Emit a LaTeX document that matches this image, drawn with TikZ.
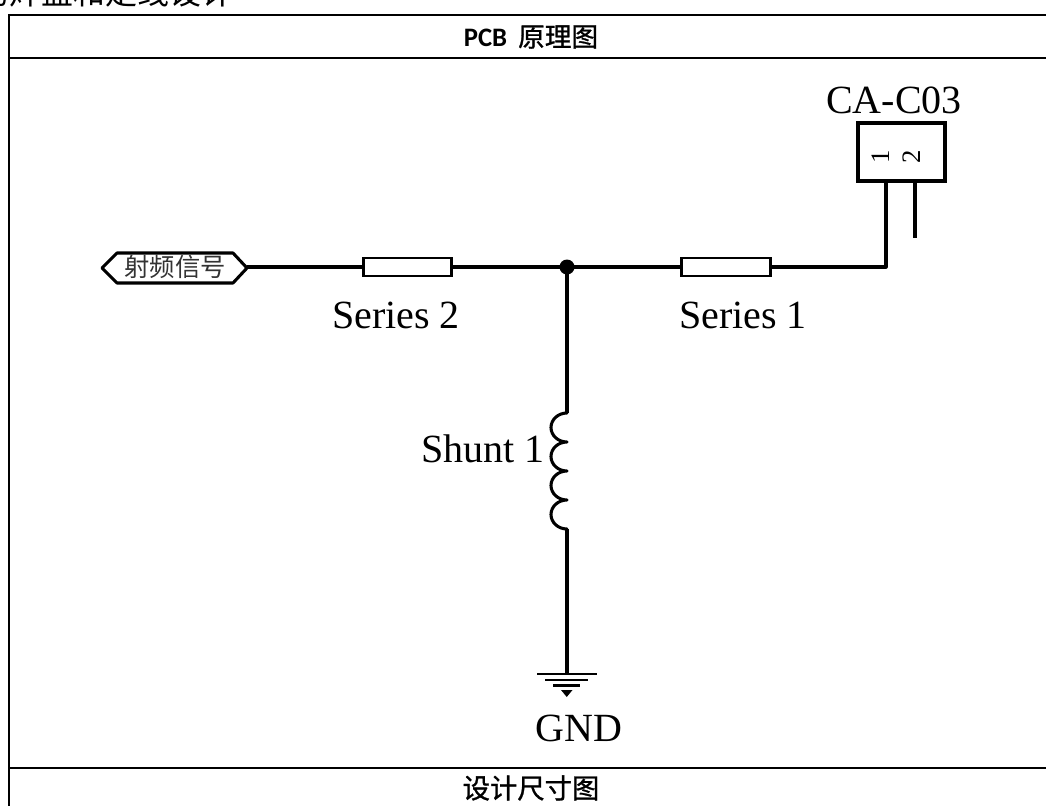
\documentclass[tikz,border=0pt]{standalone}
\usepackage{fontspec}
\setmainfont{Liberation Serif}
\newfontfamily\cjk{Noto Sans CJK SC}
\newfontfamily\cjkm[FakeBold=1]{Noto Sans CJK SC}
\newfontfamily\lab[BoldFont={Carlito Bold}]{Carlito}
\tikzset{
  wire/.style={line width=2.3pt, line join=round},
  gline/.style={line width=1.9pt},
  tbl/.style={line width=1.9pt},
  res/.style={draw, line width=2.2pt, fill=white, minimum width=66.5pt, minimum height=13.5pt, inner sep=0pt},
  serif/.style={font=\fontsize{30}{32}\selectfont, inner sep=0pt},
}
\begin{document}
\begin{tikzpicture}[x=0.75pt,y=-0.75pt]
\useasboundingbox (0,0) rectangle (1046,806);
\clip (0,0) rectangle (1046,806);
\fill[white] (0,0) rectangle (1046,806);
% table
\draw[tbl] (9,806) -- (9,15) -- (1046,15);
\draw[tbl] (9,58) -- (1046,58);
\draw[tbl] (9,768) -- (1046,768);
\node[font=\fontsize{24}{26}\selectfont\cjk, inner sep=0pt, anchor=base west] (title) at (-23,5) {的焊盘和走线设计};
\node[font=\fontsize{20}{22}\selectfont, inner sep=0pt] (h1) at (531,37) {{\lab\bfseries PCB}\ \,{\cjkm 原理图}};
\node[font=\fontsize{20.5}{24}\selectfont\cjkm, inner sep=0pt] (h2) at (531,788) {设计尺寸图};
% nodes
\node[res] (s2) at (407.5,267) {};
\node[res] (s1) at (726,267) {};
\node[serif] (ls2) at (396,315) {Series 2};
\node[serif] (ls1) at (743,315) {Series 1};
\node[serif] (ca) at (894,100) {CA-C03};
\node[draw, line width=2.6pt, minimum width=65pt, minimum height=43.5pt, inner sep=0pt] (conn) at (901.5,152) {};
\node[rotate=90, font=\fontsize{20}{20}\selectfont, inner sep=0pt] (p1) at (881,157) {1};
\node[rotate=90, font=\fontsize{20}{20}\selectfont, inner sep=0pt] (p2) at (912,157) {2};
\coordinate (pin2) at (915,238);
\coordinate (pin1top) at (886,181);
\coordinate (pin2top) at (915,181);
\coordinate (corner) at (886,267);
\coordinate (j) at (567,267);
\coordinate (lt) at (567,413);
\coordinate (lb) at (567,529);
\coordinate (g) at (567,674);
% port
\node[inner sep=0pt, font=\fontsize{19}{22}\selectfont\cjk, text=black!80] (rf) at (175,267) {射频信号};
\draw[wire] (102,268) -- (117,253) -- (233,253) -- (247,268) -- (233,283) -- (117,283) -- cycle;
\coordinate (rfr) at (247,267);
% wires
\draw[wire] (rfr) -- (s2.west);
\draw[wire] (s2.east) -- (j);
\draw[wire] (j) -- (s1.west);
\draw[wire] (s1.east) -- (corner) -- (pin1top);
\draw[wire] (pin2top) -- (pin2);
\fill (j) circle (7.5);
\draw[wire] (j) -- (lt);
\draw[wire, line cap=round]
  (lt) arc[start angle=270, end angle=90, x radius=16, y radius=14.5]
  arc[start angle=270, end angle=90, x radius=16, y radius=14.5]
  arc[start angle=270, end angle=90, x radius=16, y radius=14.5]
  arc[start angle=270, end angle=90, x radius=16, y radius=14.5];
\draw[wire] (lb) -- (g);
\node[serif, anchor=east] (ls) at (545,449) {Shunt 1};
% ground
\draw[gline] (537,674) -- (597,674);
\draw[gline] (545,680) -- (588,680);
\draw[gline] (553,685.5) -- (580,685.5);
\fill (561,690) -- (572.5,690) -- (566.75,697) -- cycle;
\node[serif] (gnd) at (579,728) {GND};
\end{tikzpicture}
\end{document}
